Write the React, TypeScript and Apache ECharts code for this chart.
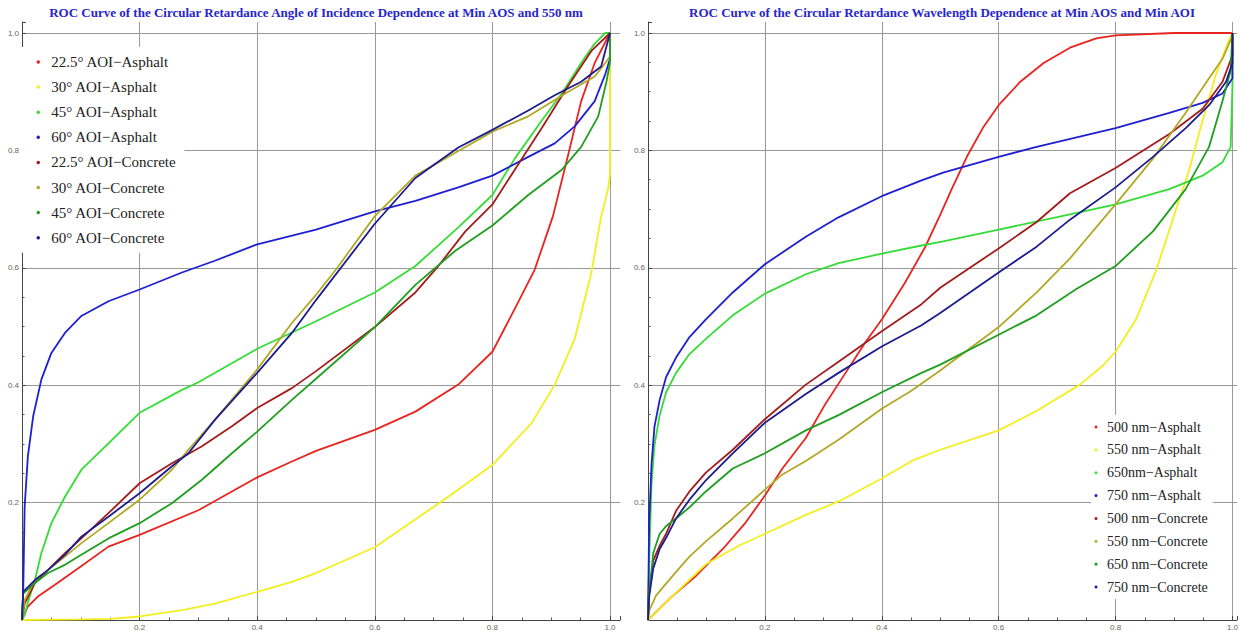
import React, { useEffect, useRef } from "react";
import * as echarts from "echarts";

const FONT = '"Liberation Serif", "Times New Roman", serif';

const leftTitle = "ROC Curve of the Circular Retardance Angle of Incidence Dependence at Min AOS and 550 nm";
const rightTitle = "ROC Curve of the Circular Retardance Wavelength Dependence at Min AOS and Min AOI";

const tickLabels = ["0.2", "0.4", "0.6", "0.8", "1.0"];

const leftNames = [
  "22.5° AOI−Asphalt",
  "30° AOI−Asphalt",
  "45° AOI−Asphalt",
  "60° AOI−Asphalt",
  "22.5° AOI−Concrete",
  "30° AOI−Concrete",
  "45° AOI−Concrete",
  "60° AOI−Concrete",
];
const rightNames = [
  "500 nm−Asphalt",
  "550 nm−Asphalt",
  "650nm−Asphalt",
  "750 nm−Asphalt",
  "500 nm−Concrete",
  "550 nm−Concrete",
  "650 nm−Concrete",
  "750 nm−Concrete",
];
const colors = ["#e8241f", "#f3ef1e", "#35dc35", "#1f1fd2", "#a31c1c", "#b3a826", "#1f9e1f", "#1c1c8f"];

// ---- Left chart: angle of incidence dependence (x = FPR, y = TPR) ----
const aoi225Asphalt = [[0,0],[0.01,0.023],[0.027,0.04],[0.056,0.06],[0.1,0.091],[0.147,0.125],[0.2,0.145],[0.3,0.187],[0.4,0.243],[0.459,0.27],[0.5,0.288],[0.6,0.324],[0.669,0.355],[0.742,0.401],[0.8,0.457],[0.838,0.53],[0.872,0.597],[0.903,0.688],[0.929,0.793],[0.951,0.884],[0.974,0.949],[1,1]];
const aoi30Asphalt = [[0,0],[0.1,0.001],[0.15,0.002],[0.2,0.006],[0.272,0.017],[0.328,0.028],[0.4,0.048],[0.459,0.065],[0.5,0.08],[0.6,0.124],[0.686,0.183],[0.725,0.21],[0.8,0.264],[0.867,0.336],[0.906,0.401],[0.94,0.479],[0.968,0.59],[0.985,0.688],[0.997,0.735],[1,0.76],[1,1]];
const aoi45Asphalt = [[0,0],[0.005,0.01],[0.01,0.03],[0.022,0.068],[0.033,0.114],[0.05,0.165],[0.073,0.21],[0.101,0.256],[0.147,0.301],[0.2,0.353],[0.272,0.392],[0.3,0.405],[0.4,0.462],[0.5,0.509],[0.6,0.558],[0.669,0.603],[0.742,0.669],[0.8,0.724],[0.838,0.786],[0.884,0.851],[0.918,0.897],[0.951,0.949],[0.974,0.982],[0.992,1],[1,1]];
const aoi60Asphalt = [[0,0],[0.002,0.045],[0.0045,0.193],[0.01,0.279],[0.019,0.347],[0.033,0.41],[0.05,0.455],[0.073,0.489],[0.101,0.518],[0.147,0.543],[0.2,0.563],[0.272,0.592],[0.328,0.612],[0.4,0.64],[0.5,0.665],[0.6,0.696],[0.669,0.714],[0.742,0.737],[0.8,0.757],[0.861,0.789],[0.906,0.812],[0.94,0.841],[0.974,0.884],[0.992,0.93],[1,0.956],[1,1]];
const aoi225Concrete = [[0,0],[0.0045,0.028],[0.022,0.063],[0.044,0.085],[0.073,0.114],[0.101,0.139],[0.147,0.182],[0.2,0.233],[0.255,0.267],[0.306,0.296],[0.357,0.33],[0.4,0.361],[0.459,0.395],[0.5,0.424],[0.6,0.499],[0.669,0.558],[0.708,0.603],[0.754,0.662],[0.8,0.708],[0.838,0.767],[0.884,0.838],[0.929,0.91],[0.968,0.969],[1,1]];
const aoi30Concrete = [[0,0],[0.0045,0.034],[0.022,0.068],[0.044,0.085],[0.073,0.108],[0.101,0.131],[0.147,0.165],[0.2,0.205],[0.255,0.256],[0.283,0.29],[0.328,0.341],[0.4,0.427],[0.459,0.506],[0.5,0.554],[0.534,0.597],[0.6,0.688],[0.669,0.757],[0.742,0.799],[0.8,0.832],[0.861,0.858],[0.929,0.9],[0.974,0.926],[0.992,0.949],[1,0.96],[1,1]];
const aoi45Concrete = [[0,0],[0.002,0.045],[0.022,0.063],[0.044,0.08],[0.073,0.094],[0.101,0.111],[0.147,0.139],[0.2,0.165],[0.255,0.199],[0.306,0.239],[0.357,0.284],[0.4,0.321],[0.459,0.375],[0.5,0.411],[0.6,0.499],[0.669,0.571],[0.737,0.629],[0.8,0.672],[0.861,0.724],[0.918,0.767],[0.951,0.806],[0.98,0.858],[0.994,0.917],[1,0.95],[1,1]];
const aoi60Concrete = [[0,0],[0.002,0.048],[0.022,0.068],[0.044,0.085],[0.073,0.111],[0.101,0.142],[0.147,0.176],[0.2,0.216],[0.255,0.262],[0.283,0.284],[0.328,0.341],[0.4,0.421],[0.459,0.489],[0.5,0.545],[0.6,0.675],[0.669,0.753],[0.742,0.805],[0.8,0.835],[0.861,0.868],[0.906,0.894],[0.951,0.917],[0.985,0.943],[1,1]];

// ---- Right chart: wavelength dependence ----
const nm500Asphalt = [[0,0],[0.043,0.042],[0.082,0.075],[0.128,0.121],[0.167,0.166],[0.2,0.212],[0.23,0.258],[0.27,0.31],[0.304,0.369],[0.338,0.421],[0.372,0.473],[0.4,0.512],[0.44,0.575],[0.474,0.635],[0.5,0.69],[0.52,0.735],[0.546,0.79],[0.574,0.84],[0.6,0.877],[0.637,0.917],[0.677,0.949],[0.722,0.975],[0.767,0.991],[0.8,0.996],[0.9,1],[1,1]];
const nm550Asphalt = [[0,0],[0.043,0.042],[0.099,0.095],[0.156,0.127],[0.2,0.147],[0.27,0.179],[0.326,0.202],[0.4,0.241],[0.451,0.271],[0.5,0.29],[0.6,0.323],[0.665,0.356],[0.739,0.401],[0.779,0.434],[0.8,0.457],[0.835,0.512],[0.87,0.597],[0.904,0.701],[0.926,0.767],[0.949,0.851],[0.972,0.93],[0.994,0.988],[1,1]];
const nm650Asphalt = [[0,0],[0.002,0.1],[0.006,0.232],[0.011,0.297],[0.02,0.349],[0.031,0.388],[0.048,0.421],[0.071,0.453],[0.099,0.479],[0.145,0.519],[0.2,0.556],[0.27,0.589],[0.326,0.608],[0.4,0.624],[0.468,0.638],[0.505,0.645],[0.6,0.665],[0.722,0.691],[0.8,0.708],[0.892,0.734],[0.949,0.757],[0.983,0.78],[0.997,0.806],[1,0.91],[1,1]];
const nm750Asphalt = [[0,0],[0.002,0.166],[0.006,0.264],[0.011,0.329],[0.02,0.375],[0.031,0.414],[0.048,0.447],[0.071,0.482],[0.099,0.512],[0.145,0.558],[0.2,0.606],[0.27,0.653],[0.326,0.686],[0.4,0.722],[0.468,0.749],[0.505,0.762],[0.6,0.789],[0.665,0.806],[0.8,0.838],[0.892,0.864],[0.949,0.881],[0.983,0.897],[1,0.923],[1,1]];
const nm500Concrete = [[0,0],[0.002,0.049],[0.009,0.101],[0.02,0.127],[0.031,0.147],[0.048,0.186],[0.071,0.219],[0.099,0.251],[0.145,0.29],[0.2,0.342],[0.27,0.401],[0.326,0.44],[0.4,0.492],[0.468,0.538],[0.5,0.566],[0.6,0.633],[0.665,0.678],[0.722,0.727],[0.8,0.77],[0.892,0.828],[0.949,0.871],[0.983,0.917],[1,0.962],[1,1]];
const nm550Concrete = [[0,0],[0.002,0.016],[0.014,0.042],[0.031,0.062],[0.048,0.082],[0.071,0.108],[0.099,0.134],[0.145,0.173],[0.2,0.222],[0.23,0.248],[0.27,0.271],[0.326,0.307],[0.4,0.36],[0.45,0.39],[0.5,0.425],[0.6,0.499],[0.665,0.558],[0.722,0.616],[0.8,0.708],[0.864,0.786],[0.92,0.864],[0.96,0.923],[0.983,0.956],[1,0.995],[1,1]];
const nm650Concrete = [[0,0],[0.002,0.045],[0.009,0.114],[0.02,0.147],[0.031,0.16],[0.048,0.173],[0.071,0.192],[0.099,0.219],[0.145,0.258],[0.2,0.284],[0.27,0.323],[0.326,0.349],[0.4,0.388],[0.468,0.421],[0.5,0.435],[0.6,0.486],[0.665,0.519],[0.733,0.564],[0.8,0.603],[0.864,0.662],[0.92,0.734],[0.96,0.806],[0.983,0.884],[0.997,0.936],[1,1]];
const nm750Concrete = [[0,0],[0.002,0.04],[0.009,0.088],[0.02,0.121],[0.031,0.14],[0.048,0.173],[0.071,0.205],[0.099,0.238],[0.145,0.284],[0.2,0.336],[0.27,0.385],[0.326,0.421],[0.4,0.466],[0.468,0.502],[0.5,0.523],[0.6,0.592],[0.665,0.636],[0.722,0.682],[0.8,0.737],[0.864,0.789],[0.92,0.838],[0.96,0.877],[0.989,0.917],[1,0.949],[1,1]];

const leftData = [aoi225Asphalt, aoi30Asphalt, aoi45Asphalt, aoi60Asphalt, aoi225Concrete, aoi30Concrete, aoi45Concrete, aoi60Concrete];
const rightData = [nm500Asphalt, nm550Asphalt, nm650Asphalt, nm750Asphalt, nm500Concrete, nm550Concrete, nm650Concrete, nm750Concrete];

const labelFmt = (v: number) => {
  const i = Math.round(v * 5);
  if (i < 1 || i > 5 || Math.abs(v * 5 - i) > 1e-6) return "";
  return tickLabels[i - 1];
};

function makeAxis(gridIndex: number, max: number) {
  return {
    type: "value",
    gridIndex,
    min: 0,
    max,
    interval: 0.2,
    axisLine: { show: true, onZero: false, lineStyle: { color: "#444", width: 1 } },
    axisTick: { show: true, inside: true, length: 4, lineStyle: { color: "#444" } },
    minorTick: { show: true, splitNumber: 4, length: 2.5, lineStyle: { color: "#555" } },
    axisLabel: { fontSize: 8, color: "#666", margin: 3, fontFamily: "Liberation Sans", formatter: labelFmt, showMaxLabel: false, showMinLabel: false },
    splitLine: { show: true, showMinLine: false, showMaxLine: false, lineStyle: { color: "#999", width: 1 } },
  };
}

export default function App() {
  const ref = useRef<HTMLDivElement>(null);
  useEffect(() => {
    if (!ref.current) return;
    const chart = echarts.init(ref.current, undefined, { renderer: "svg" });
    const series: any[] = [];
    leftData.forEach((d, i) => {
      series.push({
        type: "line", name: leftNames[i], xAxisIndex: 0, yAxisIndex: 0, data: d,
        showSymbol: false, symbol: "none", smooth: false,
        lineStyle: { width: 1.8, color: colors[i] }, itemStyle: { color: colors[i] },
      });
    });
    rightData.forEach((d, i) => {
      series.push({
        type: "line", name: rightNames[i], xAxisIndex: 1, yAxisIndex: 1, data: d,
        showSymbol: false, symbol: "none", smooth: false,
        lineStyle: { width: 1.8, color: colors[i] }, itemStyle: { color: colors[i] },
      });
    });
    const titleStyle = { fontFamily: FONT, fontSize: 13, fontWeight: "bold", color: "#2626cc" };
    chart.setOption({
      animation: false,
      backgroundColor: "#fff",
      title: [
        { text: leftTitle, left: 311, top: 1, textAlign: "center", textStyle: titleStyle },
        { text: rightTitle, left: 937, top: 1, textAlign: "center", textStyle: titleStyle },
      ],
      grid: [
        { left: 22, top: 22, width: 598, height: 598 },
        { left: 648, top: 22, width: 593, height: 598 },
      ],
      xAxis: [makeAxis(0, 598 / 588), makeAxis(1, 593 / 588.4)],
      yAxis: [makeAxis(0, 598 / 587), makeAxis(1, 598 / 587)],
      legend: [
        {
          data: leftNames, orient: "vertical", left: 22, top: 47, padding: [6, 8, 6, 14.5],
          icon: "circle", itemWidth: 16, itemHeight: 3.5, itemGap: 7.1, backgroundColor: "#fff",
          selectedMode: false,
          textStyle: { fontFamily: FONT, fontSize: 15, color: "#222", lineHeight: 18 },
        },
        {
          data: rightNames, orient: "vertical", left: 1091, top: 415, padding: [4, 5, 4, 3.5],
          icon: "circle", itemWidth: 12, itemHeight: 3, itemGap: 6.86, backgroundColor: "#fff",
          selectedMode: false,
          textStyle: { fontFamily: FONT, fontSize: 14, color: "#222", lineHeight: 16 },
        },
      ],
      series,
    });
    return () => chart.dispose();
  }, []);
  return <div ref={ref} style={{ position: "absolute", left: 0, top: 0, width: 1241, height: 632, background: "#fff" }} />;
}
